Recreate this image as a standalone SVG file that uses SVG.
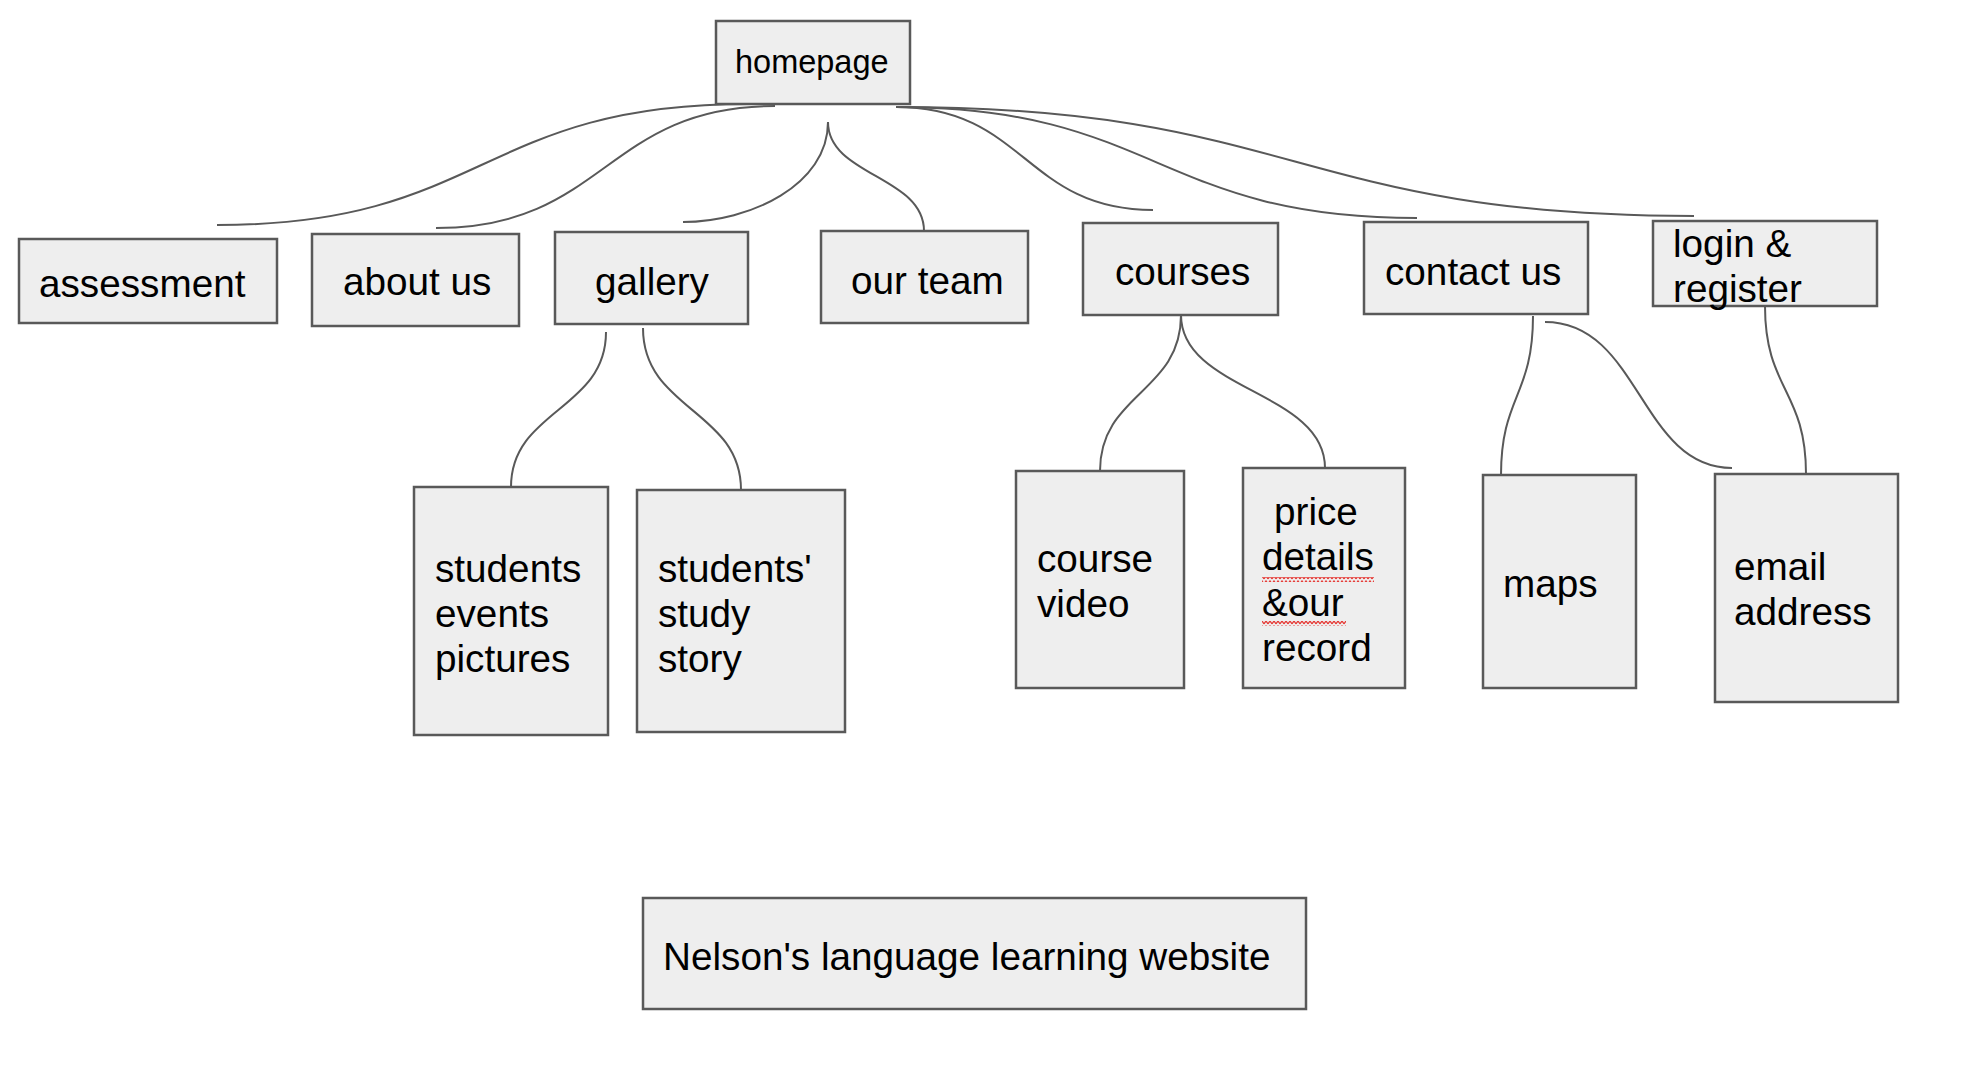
<svg xmlns="http://www.w3.org/2000/svg" width="1964" height="1088" viewBox="0 0 1964 1088">
<style>
.box{fill:#eeeeee;stroke:#595959;stroke-width:2.5}
.t{font-family:"Liberation Sans",Arial,sans-serif;font-size:38.7px;fill:#000}
.hp{font-size:32.5px}
.c{fill:none;stroke:#595959;stroke-width:2}
</style>
<defs>
<pattern id="wavy" width="4" height="5" patternUnits="userSpaceOnUse">
<path d="M0 4 L2 1 L4 4" fill="none" stroke="#e53935" stroke-width="1.3"/>
</pattern>
</defs>
<rect width="1964" height="1088" fill="#ffffff"/>
<g id="connectors">
<path class="c" d="M748 104 C480 104 485 225 217 225"/>
<path class="c" d="M775 106 C605 106 606 228 436 228"/>
<path class="c" d="M828 122 C828 185 750 222 683 222"/>
<path class="c" d="M828 122 C828 176 924 176 924 231"/>
<path class="c" d="M896 107 C1025 107 1025 210 1153 210"/>
<path class="c" d="M896 107 C1157 107 1157 218 1417 218"/>
<path class="c" d="M896 107 C1295 107 1295 216 1694 216"/>
<path class="c" d="M606 332 C606 410 511 410 511 487"/>
<path class="c" d="M643 328 C643 410 741 410 741 490"/>
<path class="c" d="M1181 315 C1181 393 1100 393 1100 471"/>
<path class="c" d="M1181 315 C1181 391 1325 391 1325 468"/>
<path class="c" d="M1533 316 C1533 396 1501 396 1501 475"/>
<path class="c" d="M1545 322 C1640 322 1640 468 1732 468"/>
<path class="c" d="M1765 306 C1765 390 1806 390 1806 474"/>
</g>
<g id="homepage"><rect class="box" x="716" y="21" width="194" height="83"/><text class="t hp" x="735" y="73">homepage</text></g>
<g id="assessment"><rect class="box" x="19" y="239" width="258" height="84"/><text class="t" x="39" y="297">assessment</text></g>
<g id="about-us"><rect class="box" x="312" y="234" width="207" height="92"/><text class="t" x="343" y="295">about us</text></g>
<g id="gallery"><rect class="box" x="555" y="232" width="193" height="92"/><text class="t" x="595" y="295">gallery</text></g>
<g id="our-team"><rect class="box" x="821" y="231" width="207" height="92"/><text class="t" x="851" y="294">our team</text></g>
<g id="courses"><rect class="box" x="1083" y="223" width="195" height="92"/><text class="t" x="1115" y="285">courses</text></g>
<g id="contact-us"><rect class="box" x="1364" y="222" width="224" height="92"/><text class="t" x="1385" y="285">contact us</text></g>
<g id="login-register"><rect class="box" x="1653" y="221" width="224" height="85"/><text class="t" x="1673" y="257">login &amp;</text><text class="t" x="1673" y="302">register</text></g>
<g id="students-events-pictures"><rect class="box" x="414" y="487" width="194" height="248"/><text class="t" x="435" y="582">students</text><text class="t" x="435" y="627">events</text><text class="t" x="435" y="672">pictures</text></g>
<g id="students-study-story"><rect class="box" x="637" y="490" width="208" height="242"/><text class="t" x="658" y="582">students'</text><text class="t" x="658" y="627">study</text><text class="t" x="658" y="672">story</text></g>
<g id="course-video"><rect class="box" x="1016" y="471" width="168" height="217"/><text class="t" x="1037" y="572">course</text><text class="t" x="1037" y="617">video</text></g>
<g id="price-details"><rect class="box" x="1243" y="468" width="162" height="220"/><text class="t" x="1274" y="525">price</text><text class="t" x="1262" y="570">details</text><text class="t" x="1262" y="616">&amp;our</text><text class="t" x="1262" y="661">record</text><rect x="1262" y="577" width="112" height="5" fill="url(#wavy)"/><rect x="1262" y="621" width="84" height="5" fill="url(#wavy)"/></g>
<g id="maps"><rect class="box" x="1483" y="475" width="153" height="213"/><text class="t" x="1503" y="597">maps</text></g>
<g id="email-address"><rect class="box" x="1715" y="474" width="183" height="228"/><text class="t" x="1734" y="580">email</text><text class="t" x="1734" y="625">address</text></g>
<g id="title"><rect class="box" x="643" y="898" width="663" height="111"/><text class="t" x="663" y="970">Nelson's language learning website</text></g>
</svg>
